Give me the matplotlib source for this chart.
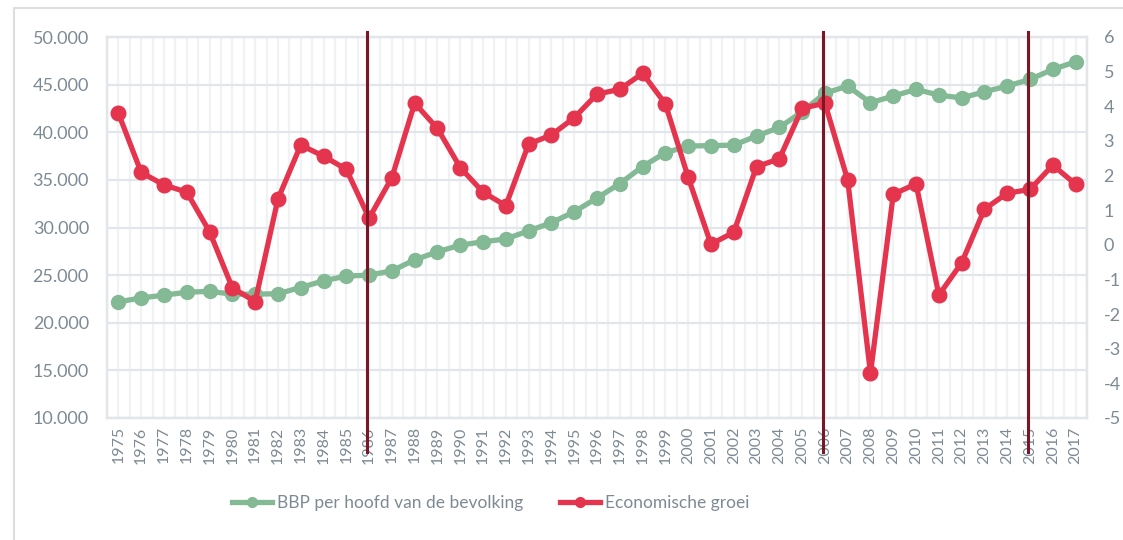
import matplotlib

matplotlib.use("Agg")
import matplotlib.pyplot as plt
from matplotlib.lines import Line2D
from matplotlib.patches import Rectangle
from matplotlib.ticker import FuncFormatter, MultipleLocator

years = list(range(1975, 2018))
bbp_per_hoofd = [
    22200, 22600, 22900, 23200, 23300, 23000, 23000, 23050, 23700, 24400,
    24900, 25000, 25450, 26600, 27450, 28150, 28500, 28800, 29650, 30500,
    31650, 33100, 34600, 36400, 37850, 38550, 38600, 38650, 39600, 40500,
    42150, 44100, 44850, 43100, 43800, 44500, 43900, 43600, 44250, 44850,
    45550, 46600, 47400,
]
economische_groei = [
    3.80, 2.09, 1.73, 1.52, 0.38, -1.24, -1.64, 1.32, 2.88, 2.56,
    2.18, 0.77, 1.94, 4.09, 3.36, 2.23, 1.52, 1.13, 2.91, 3.17,
    3.67, 4.35, 4.49, 4.95, 4.07, 1.95, 0.02, 0.36, 2.26, 2.48,
    3.94, 4.09, 1.87, -3.71, 1.46, 1.76, -1.45, -0.52, 1.03, 1.49,
    1.60, 2.30, 1.75,
]
marker_years = [1986, 2006, 2015]

GREEN = "#83b995"
RED = "#e5344d"
DARK_RED = "#7b1626"
TEXT = "#7d8a94"
GRID = "#e2e5e9"
MINOR = "#f0f2f4"

plt.rcParams["font.family"] = ["Lato", "DejaVu Sans"]
plt.rcParams["axes.unicode_minus"] = False

fig = plt.figure(figsize=(11.23, 5.40), dpi=100)
ax = fig.add_axes([107 / 1123, 1 - 418 / 540, 980 / 1123, 381 / 540])
ax2 = ax.twinx()

# outer chart frame (only top and left edges visible in the crop)
fig.patches.append(
    Rectangle((14 / 1123, -0.1), 1.2, 1 - 8 / 540 + 0.1, transform=fig.transFigure,
              fill=False, edgecolor="#dcdfe2", linewidth=1.5, zorder=0)
)

ax.set_xlim(1974.5, 2017.5)
ax.set_ylim(10000, 50000)
ax2.set_ylim(-5, 6)

# grid
ax.yaxis.set_major_locator(MultipleLocator(5000))
for v in range(10000, 50001, 5000):
    ax.axhline(v, color=GRID, lw=1.6, zorder=1)
for k in range(2 * len(years) + 1):
    ax.axvline(1974.5 + 0.5 * k, color=MINOR, lw=1.6, zorder=0.5)

ax.plot(years, bbp_per_hoofd, color=GREEN, lw=3.8, marker="o", ms=10,
        solid_capstyle="round", zorder=3)
ax2.plot(years, economische_groei, color=RED, lw=3.8, marker="o", ms=10.5,
         solid_capstyle="round", zorder=3)

for yr in marker_years:
    ax2.axvline(yr - 0.1, ymin=-0.09, ymax=1.012, color=DARK_RED, lw=2.2,
                clip_on=False, zorder=5)

for a in (ax, ax2):
    for s in a.spines.values():
        s.set_color(GRID)
        s.set_linewidth(1.6)
    a.tick_params(length=0)

ax.set_xticks(years)
ax.set_xticklabels([str(y) for y in years], rotation=90, fontsize=11.5, color=TEXT)
ax.tick_params(axis="x", pad=6)
ax.yaxis.set_major_formatter(FuncFormatter(lambda v, _: f"{int(v):,}".replace(",", ".")))
ax.tick_params(axis="y", labelsize=13, labelcolor=TEXT, pad=13)

ax2.set_yticks(range(-5, 7))
ax2.tick_params(axis="y", labelsize=13, labelcolor=TEXT, pad=12)

handles = [
    Line2D([], [], color=GREEN, lw=3.8, marker="o", ms=7),
    Line2D([], [], color=RED, lw=3.8, marker="o", ms=7),
]
fig.legend(handles, ["BBP per hoofd van de bevolking", "Economische groei"],
           loc="center", bbox_to_anchor=(491 / 1123, 1 - 503 / 540),
           ncol=2, frameon=False, fontsize=12.5, handlelength=2.3,
           handletextpad=0.3, columnspacing=2.1, labelcolor=TEXT)

fig.savefig("out.png", dpi=100)
